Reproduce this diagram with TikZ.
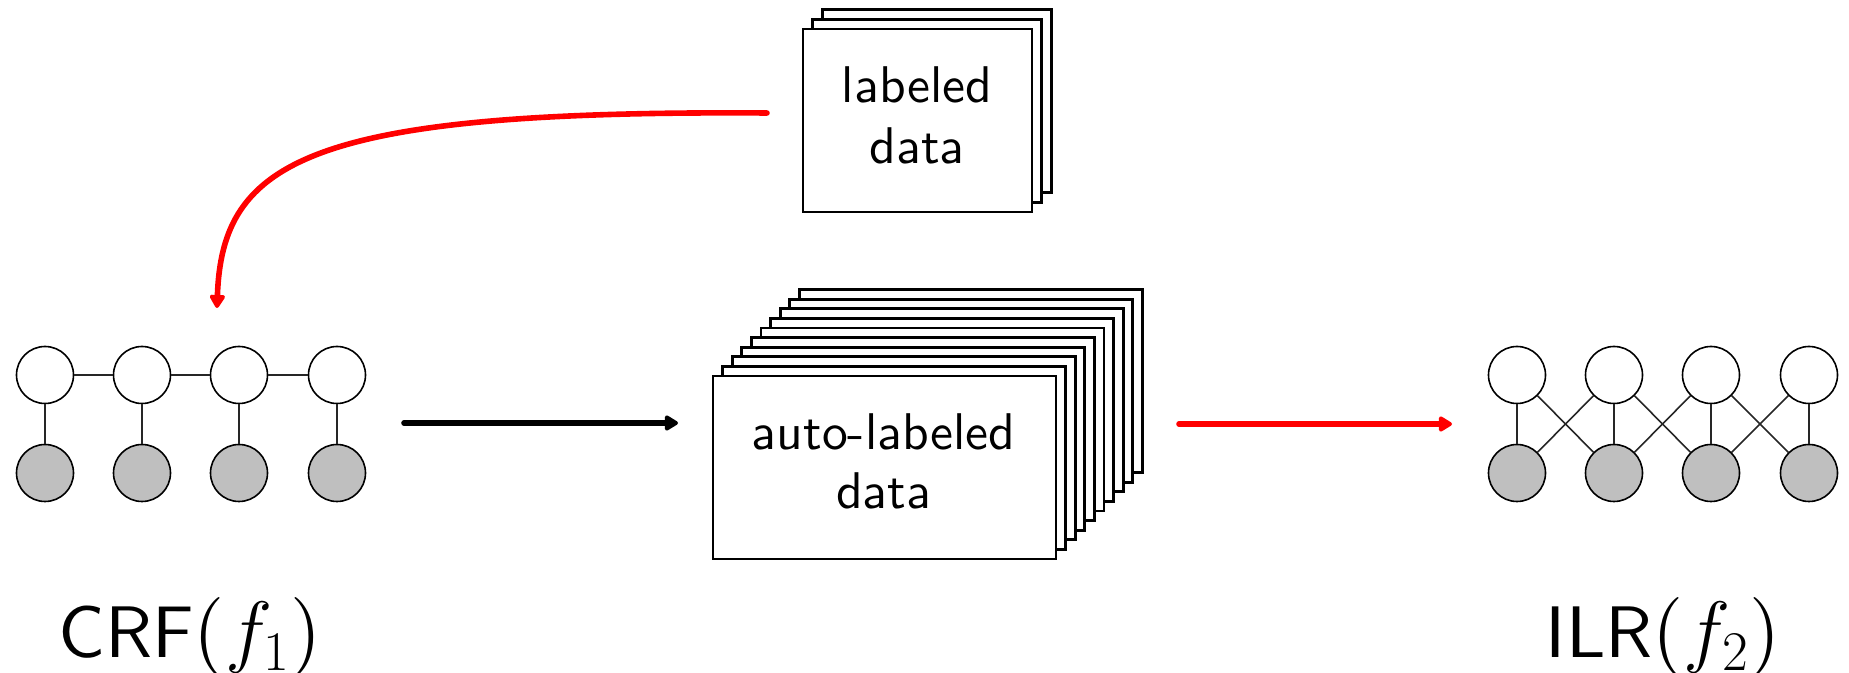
\RequirePackage{fix-cm}
\documentclass[tikz,border=0pt]{standalone}
\usepackage{fontspec}
\setsansfont{lmsans10-regular.otf}
\newfontfamily\parenfont{lmroman10-regular.otf}
\usetikzlibrary{arrows.meta}
\newcommand{\mathbig}[1]{{\fontsize{40}{44}\selectfont\parenfont($#1$)}}
\begin{document}
\begin{tikzpicture}[x=0.5pt,y=-0.5pt,
  hid/.style={circle,draw=black,line width=0.8pt,minimum size=28.5pt,inner sep=0pt,fill=white},
  obs/.style={hid,fill=black!25},
  gedge/.style={line width=0.8pt,draw=black!85},
  sheet/.style={draw=black,fill=white,line width=1.35pt,inner sep=0pt},
  autosheet/.style={sheet,minimum width=171.5pt,minimum height=91.5pt},
  labsheet/.style={sheet,minimum width=114.5pt,minimum height=91.5pt},
  flow/.style={line width=2.8pt,line cap=round,-{Triangle[length=7.5pt,width=8.5pt,round]}},
  lbl/.style={font=\sffamily\fontsize{25.8}{30}\selectfont,align=center,inner sep=0pt},
  big/.style={font=\sffamily\fontsize{36.5}{40}\selectfont,inner sep=0pt,anchor=base}
]
\useasboundingbox (0,0) rectangle (1849,673);

% ---- labeled data stack ----
\foreach \i in {2,1} {
  \node[labsheet] (lab\i) at ({917.5+\i*9.6},{120.5-\i*9.6}) {};
}
\node[labsheet] (lab0) at (917.5,120.5) {};
\node[lbl,font=\sffamily\fontsize{25.8}{30.5}\selectfont] (labtext) at (917,115) {labeled\\data};

% ---- auto-labeled data stack ----
\foreach \i in {9,8,...,1} {
  \node[autosheet] (auto\i) at ({884.5+\i*9.6},{467.5-\i*9.6}) {};
}
\node[autosheet] (auto0) at (884.5,467.5) {};
\node[lbl,font=\sffamily\fontsize{25.8}{29.5}\selectfont] (autotext) at (883.5,461.5) {auto-labeled\\data};

% ---- CRF graph ----
\foreach \n/\x in {1/45,2/142,3/239,4/337} {
  \node[hid] (ct\n) at (\x,375) {};
  \node[obs] (cb\n) at (\x,473) {};
}
\foreach \a/\b in {1/2,2/3,3/4} { \draw[gedge] (ct\a) -- (ct\b); }
\foreach \n in {1,2,3,4} { \draw[gedge] (ct\n) -- (cb\n); }

% ---- ILR graph ----
\foreach \n/\x in {1/1517,2/1614,3/1711,4/1809} {
  \node[hid] (it\n) at (\x,375) {};
  \node[obs] (ib\n) at (\x,473) {};
}
\foreach \n in {1,2,3,4} { \draw[gedge] (it\n) -- (ib\n); }
\foreach \a/\b in {1/2,2/3,3/4} {
  \draw[gedge] (it\a) -- (ib\b);
  \draw[gedge] (it\b) -- (ib\a);
}

% ---- labels ----
\node[big] (crflabel) at (190,658) {CRF\mathbig{f_1}};
\node[big] (ilrlabel) at (1663,658) {ILR\mathbig{f_2}};

% ---- arrows ----
\coordinate (bstart) at (404,423);
\coordinate (bend) at (678,423);
\draw[flow,black] (bstart) -- (bend);

\coordinate (rstart) at (1179,424);
\coordinate (rend) at (1452,424);
\draw[flow,red] (rstart) -- (rend);

\coordinate (cstart) at (767,113);
\coordinate (cend) at (217,308);
\draw[flow,red] (cstart) .. controls (310,110) and (222,160) .. (cend);
\end{tikzpicture}
\end{document}
